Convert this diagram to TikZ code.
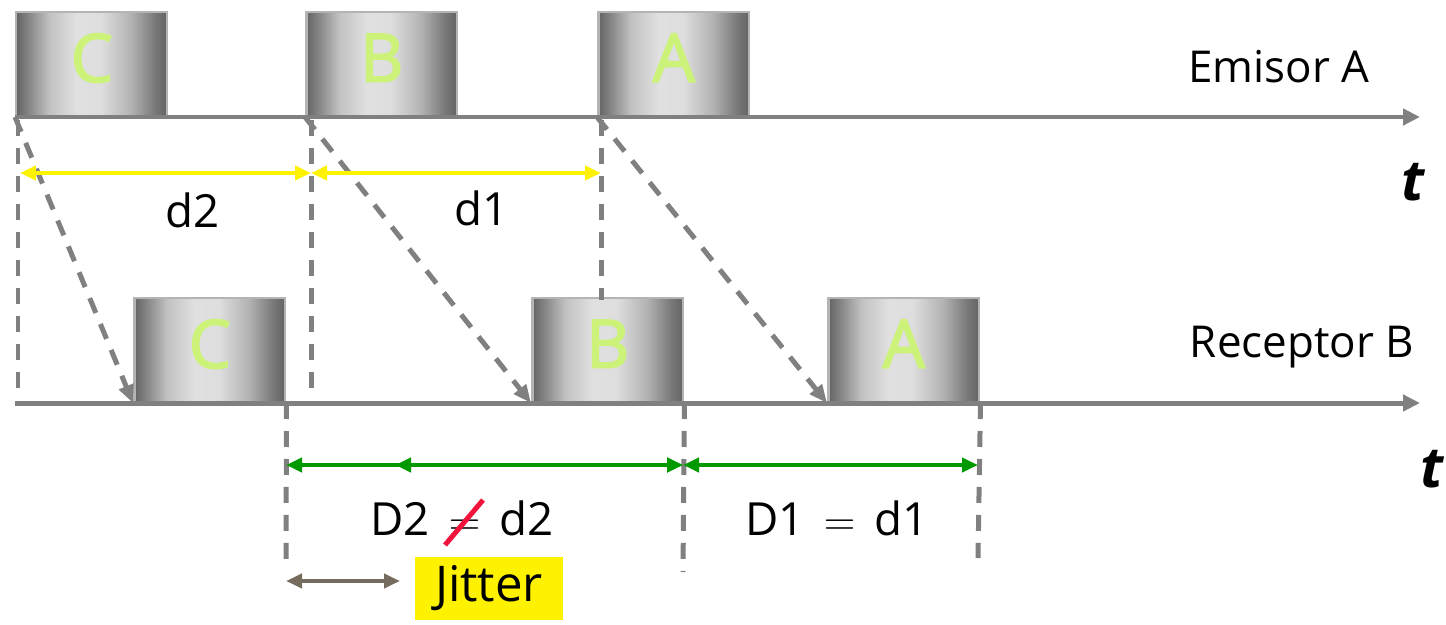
\documentclass[tikz,border=0pt]{standalone}
\usepackage{fontspec}
\setmainfont{Open Sans}
\newfontfamily\pktfont{Open Sans}[FakeBold=2.5]
\usetikzlibrary{arrows.meta}
\definecolor{axisgray}{RGB}{128,128,128}
\definecolor{boxedge}{RGB}{180,180,180}
\definecolor{lettergreen}{RGB}{204,242,122}
\definecolor{dgreen}{RGB}{0,153,0}
\definecolor{jitbrown}{RGB}{118,108,94}
\definecolor{slashred}{RGB}{240,20,60}
\pgfdeclarehorizontalshading{pktshade}{100bp}{
	rgb(0bp)=(0.39,0.39,0.39); rgb(25bp)=(0.39,0.39,0.39);
	rgb(29bp)=(0.52,0.52,0.52); rgb(36bp)=(0.76,0.76,0.76);
	rgb(45bp)=(0.88,0.88,0.88); rgb(53bp)=(0.87,0.87,0.87);
	rgb(63bp)=(0.70,0.70,0.70); rgb(71bp)=(0.47,0.47,0.47);
	rgb(75bp)=(0.39,0.39,0.39); rgb(100bp)=(0.39,0.39,0.39)}
\begin{document}
\begin{tikzpicture}[x=0.02cm,y=-0.02cm,
	pkt/.style={draw=boxedge,line width=0.05cm,anchor=south west,inner sep=0,
		minimum width=3.02cm,minimum height=2.08cm,text depth=0.24cm,
		shading=pktshade,text=lettergreen,font=\pktfont\fontsize{38}{38}\selectfont},
	axis/.style={draw=axisgray,line width=0.1cm,-{Triangle[length=0.34cm,width=0.32cm]}},
	gap/.style={draw=axisgray,line width=0.1cm,dash pattern=on 0.32cm off 0.24cm},
	hop/.style={gap,-{Triangle[length=0.36cm,width=0.3cm]}},
	span/.style={line width=0.08cm,{Triangle[length=0.32cm,width=0.28cm]}-{Triangle[length=0.32cm,width=0.28cm]}},
	lbl/.style={anchor=base,inner sep=0,font=\fontsize{26}{26}\selectfont},
	side/.style={anchor=base,inner sep=0,font=\fontsize{25}{25}\selectfont},
	tee/.style={anchor=base,inner sep=0,font=\fontsize{32}{32}\selectfont\bfseries\itshape}]
	\useasboundingbox (0,0) rectangle (1446,625);
	% packets
	\node[pkt] (sC) at (15,117) {C};
	\node[pkt] (sB) at (305,117) {B};
	\node[pkt] (sA) at (597,117) {A};
	\node[pkt] (rC) at (133,403) {C};
	\node[pkt] (rB) at (531,403) {B};
	\node[pkt] (rA) at (827,403) {A};
	% time axes
	\coordinate (e0) at (15,117);
	\coordinate (e1) at (1420,117);
	\coordinate (r0) at (15,403);
	\coordinate (r1) at (1420,403);
	\path (e0) edge[axis] (e1);
	\path (r0) edge[axis] (r1);
	\node[side] (emisor) at (1279,83) {Emisor A};
	\node[side] (receptor) at (1302,357) {Receptor B};
	\node[tee] (t1) at (1413,200) {t};
	\node[tee] (t2) at (1432,487) {t};
	% guide lines
	\coordinate (a1) at (18,120);
	\coordinate (a2) at (18,392);
	\coordinate (b1) at (311,120);
	\coordinate (b2) at (311,388);
	\coordinate (c1) at (601,120);
	\coordinate (c2) at (601,300);
	\coordinate (p2) at (286,560);
	\coordinate (q2) at (683,572);
	\coordinate (s2) at (978,558);
	\path (a1) edge[gap] (a2);
	\path (b1) edge[gap] (b2);
	\path (c1) edge[gap] (c2);
	\path (rC.south east) edge[gap] (p2);
	\path (rB.south east) edge[gap] (q2);
	\path (rA.south east) edge[gap] (s2);
	\path (sC.south west) edge[hop] (rC.south west);
	\path (sB.south west) edge[hop] (rB.south west);
	\path (sA.south west) edge[hop] (rA.south west);
	% distances
	\coordinate (y1) at (20,173);
	\coordinate (y2) at (311,173);
	\coordinate (y3) at (601,173);
	\path (y1) edge[span,yellow] (y2);
	\path (y2) edge[span,yellow] (y3);
	\node[lbl] (d2) at (193,227) {d2};
	\node[lbl] (d1) at (482,225) {d1};
	\coordinate (g1) at (286,465);
	\coordinate (g2) at (395,465);
	\coordinate (g3) at (683,465);
	\coordinate (g4) at (978,465);
	\path (g1) edge[span,dgreen] (g3);
	\path (g2) edge[span,dgreen] (g3);
	\path (g3) edge[span,dgreen] (g4);
	\node[lbl] (D2) at (462,535) {D2 $\,=\,$ d2};
	\node[lbl] (D1) at (837,535) {D1 $\,=\,$ d1};
	\coordinate (n1) at (445,545);
	\coordinate (n2) at (483,500);
	\path (n1) edge[draw=slashred,line width=0.1cm] (n2);
	% jitter
	\coordinate (j1) at (286,581);
	\coordinate (j2) at (400,581);
	\path (j1) edge[span,jitbrown] (j2);
	\node[fill=yellow,minimum width=2.96cm,minimum height=1.26cm,inner sep=0,
		font=\fontsize{28}{28}\selectfont] (jitter) at (489,588) {Jitter};
\end{tikzpicture}
\end{document}
